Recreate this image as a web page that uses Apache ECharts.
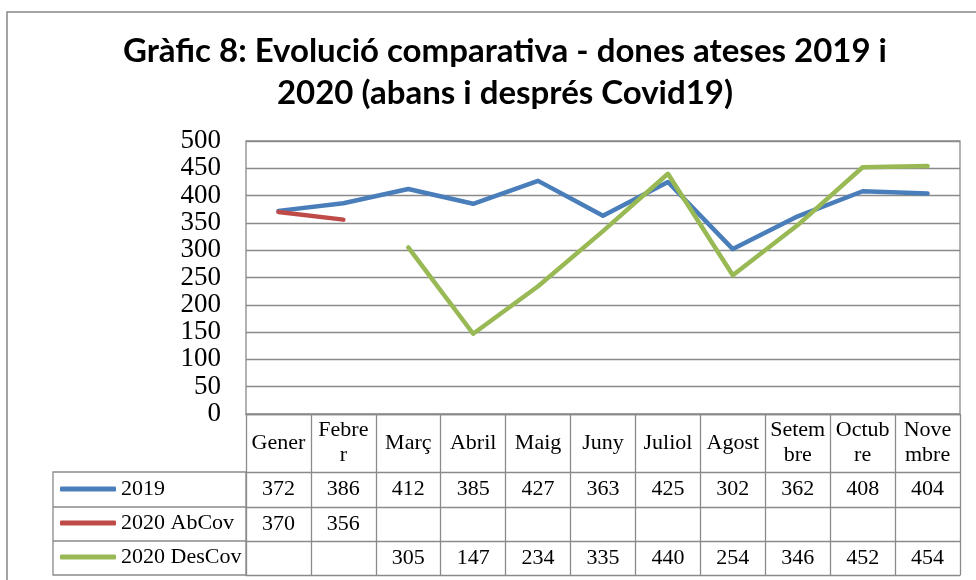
<!DOCTYPE html>
<html>
<head>
<meta charset="utf-8">
<script src="https://cdn.jsdelivr.net/npm/echarts@6/dist/echarts.min.js"></script>
<style>
  html, body { margin: 0; padding: 0; background: #fff; }
  #main { width: 976px; height: 580px; }
</style>
</head>
<body>
<div id="main"></div>
<script>
// dades
const months = ['Gener', 'Febre\nr', 'Març', 'Abril', 'Maig', 'Juny', 'Juliol', 'Agost', 'Setem\nbre', 'Octub\nre', 'Nove\nmbre'];
const values2019 = [372, 386, 412, 385, 427, 363, 425, 302, 362, 408, 404];
const valuesAbCov = [370, 356, null, null, null, null, null, null, null, null, null];
const valuesDesCov = [null, null, 305, 147, 234, 335, 440, 254, 346, 452, 454];
const seriesNames = ['2019', '2020 AbCov', '2020 DesCov'];
const yTicks = [0, 50, 100, 150, 200, 250, 300, 350, 400, 450, 500];

const colors = ['#4a7ebb', '#be4b48', '#98b954'];
const gridColor = '#8a8a8a';
const serif = '"Liberation Serif", "DejaVu Serif", serif';

const chart = echarts.init(document.getElementById('main'));

// fila de la taula sota el gràfic (eix de categories desplaçat)
function tableAxis(data, offset, tickLen, margin) {
  return {
    type: 'category',
    gridIndex: 0,
    position: 'bottom',
    offset: offset,
    data: data,
    boundaryGap: true,
    axisLine: { show: true, lineStyle: { color: gridColor, width: 1.3 } },
    axisTick: { show: tickLen > 0, interval: 0, length: tickLen, lineStyle: { color: gridColor, width: 1.3 } },
    axisLabel: {
      show: true, interval: 0, margin: margin, verticalAlign: 'middle',
      fontFamily: serif, fontSize: 22, lineHeight: 25, color: '#000'
    },
    splitLine: { show: false }
  };
}
const asText = arr => arr.map(v => (v == null ? '' : String(v)));

const option = {
  backgroundColor: '#fff',
  animation: false,
  title: {
    text: 'Gràfic 8: Evolució comparativa - dones ateses 2019 i\n2020 (abans i després Covid19)',
    left: 500,
    textAlign: 'center',
    top: 25,
    textStyle: { fontFamily: 'Lato', fontWeight: 'bold', fontSize: 33, lineHeight: 42, color: '#000' }
  },
  legend: {
    data: seriesNames,
    orient: 'vertical',
    left: 60,
    top: 472,
    padding: 0,
    itemGap: 0,
    itemWidth: 56,
    itemHeight: 5,
    icon: 'roundRect',
    selectedMode: false,
    textStyle: { fontFamily: serif, fontSize: 22, lineHeight: 34, color: '#000' }
  },
  grid: {
    left: 246, right: 16, top: 141, bottom: 166,
    show: true, borderColor: gridColor, borderWidth: 1.3
  },
  xAxis: [
    tableAxis(months, 0, 58, 29),
    tableAxis(asText(values2019), 58, 35, 17.5),
    tableAxis(asText(valuesAbCov), 93, 34, 17),
    tableAxis(asText(valuesDesCov), 127, 34, 17),
    tableAxis(months.map(() => ''), 161, 0, 0)
  ],
  yAxis: {
    type: 'value',
    min: yTicks[0],
    max: yTicks[yTicks.length - 1],
    interval: 50,
    axisLine: { show: false },
    axisTick: { show: false },
    axisLabel: { margin: 25, fontFamily: serif, fontSize: 27, color: '#000' },
    splitLine: { lineStyle: { color: gridColor, width: 1.3 } }
  },
  series: [values2019, valuesAbCov, valuesDesCov].map((vals, i) => ({
    name: seriesNames[i],
    type: 'line',
    xAxisIndex: 0,
    data: vals,
    color: colors[i],
    showSymbol: false,
    symbol: 'none',
    connectNulls: false,
    lineStyle: { width: 4.5, color: colors[i], cap: 'round', join: 'round' }
  })),
  graphic: [
    // vora exterior del gràfic
    { type: 'rect', shape: { x: 7, y: 12, width: 1000, height: 620 }, style: { fill: null, stroke: '#878787', lineWidth: 1.5 }, z: -1 },
    // columna de la llegenda
    { type: 'rect', shape: { x: 53, y: 472, width: 193, height: 103 }, style: { fill: null, stroke: gridColor, lineWidth: 1.3 }, z: -1 },
    { type: 'line', shape: { x1: 53, y1: 507, x2: 246, y2: 507 }, style: { stroke: gridColor, lineWidth: 1.3 }, z: -1 },
    { type: 'line', shape: { x1: 53, y1: 541, x2: 246, y2: 541 }, style: { stroke: gridColor, lineWidth: 1.3 }, z: -1 }
  ]
};

chart.setOption(option);
</script>
</body>
</html>
